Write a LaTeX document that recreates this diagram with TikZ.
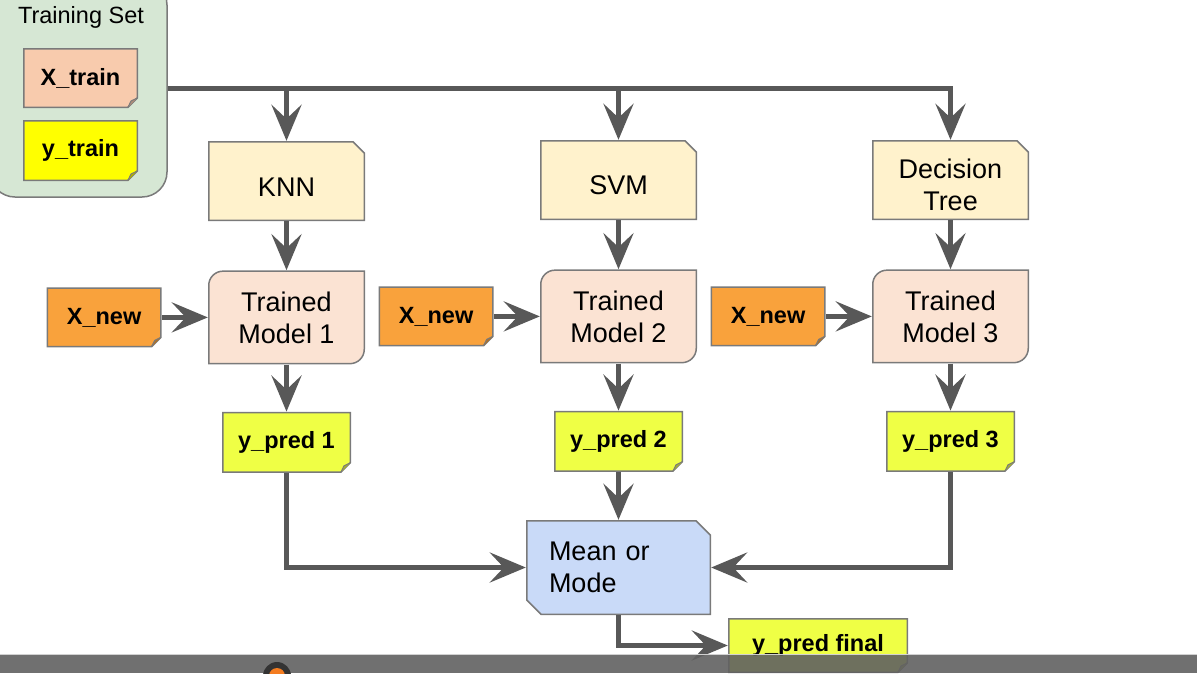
\documentclass[tikz,border=0pt]{standalone}
\usepackage{fontspec}
\setmainfont{Liberation Sans}
\usepackage{xcolor}
\usepackage{tikz}
\usetikzlibrary{arrows.meta,positioning}

\definecolor{wirecol}{HTML}{585858}
\definecolor{boxline}{HTML}{7A7A7A}
\definecolor{setfill}{HTML}{D6E7D4}
\definecolor{xtrainfill}{HTML}{F8CBAD}
\definecolor{ytrainfill}{HTML}{FFFF00}
\definecolor{algofill}{HTML}{FFF2CC}
\definecolor{modelfill}{HTML}{FBE3D3}
\definecolor{xnewfill}{HTML}{F9A23C}
\definecolor{predfill}{HTML}{EFFF45}
\definecolor{mergefill}{HTML}{C9DAF8}
\definecolor{dotfill}{HTML}{F47C20}

\begin{document}
\begin{tikzpicture}[
    x=1pt, y=-1pt,
    >={Stealth[length=36pt, width=30pt, inset=14pt]},
    wire/.style={draw=wirecol, line width=5pt},
    lbl/.style={font=\fontsize{27}{32}\selectfont, inner sep=0pt, align=center},
    box/.style={lbl, minimum width=157pt},
    note/.style={minimum width=115pt, minimum height=60pt, inner sep=0pt,
        font=\bfseries\fontsize{23.5}{28}\selectfont,
        path picture={
            \coordinate (nw) at (path picture bounding box.north west);
            \coordinate (ne) at (path picture bounding box.north east);
            \coordinate (se) at (path picture bounding box.south east);
            \coordinate (sw) at (path picture bounding box.south west);
            \filldraw[fill=#1, draw=boxline, line width=1.5pt]
                ([shift={(.75pt,-.75pt)}]nw) -- ([shift={(-.75pt,-.75pt)}]ne)
                -- ([shift={(-.75pt,10pt)}]se) -- ([shift={(-10pt,.75pt)}]se)
                -- ([shift={(.75pt,.75pt)}]sw) -- cycle;
            \filldraw[fill=#1!70!black, draw=boxline, line width=1pt]
                ([shift={(-.75pt,10pt)}]se) -- ([shift={(-7pt,7pt)}]se)
                -- ([shift={(-10pt,.75pt)}]se);
        }},
    algo/.style={box, minimum height=80pt, text height=30pt,
        path picture={
            \coordinate (nw) at (path picture bounding box.north west);
            \coordinate (ne) at (path picture bounding box.north east);
            \coordinate (se) at (path picture bounding box.south east);
            \coordinate (sw) at (path picture bounding box.south west);
            \filldraw[fill=algofill, draw=boxline, line width=1.5pt]
                ([shift={(.75pt,-.75pt)}]nw) -- ([shift={(-12pt,-.75pt)}]ne)
                -- ([shift={(-.75pt,-12pt)}]ne) -- ([shift={(-.75pt,.75pt)}]se)
                -- ([shift={(.75pt,.75pt)}]sw) -- cycle;
        }},
    model/.style={box, minimum height=94pt,
        path picture={
            \coordinate (nw) at (path picture bounding box.north west);
            \coordinate (ne) at (path picture bounding box.north east);
            \coordinate (se) at (path picture bounding box.south east);
            \coordinate (sw) at (path picture bounding box.south west);
            \filldraw[fill=modelfill, draw=boxline, line width=1.5pt]
                ([shift={(.75pt,.75pt)}]sw) -- ([shift={(.75pt,-15pt)}]nw)
                arc[start angle=180, end angle=90, radius=14.25pt]
                -- ([shift={(-.75pt,-.75pt)}]ne) -- ([shift={(-.75pt,15pt)}]se)
                arc[start angle=0, end angle=-90, radius=14.25pt] -- cycle;
        }},
    merge/.style={lbl, minimum width=185pt, minimum height=95pt,
        text width=139pt, align=left,
        path picture={
            \coordinate (nw) at (path picture bounding box.north west);
            \coordinate (ne) at (path picture bounding box.north east);
            \coordinate (se) at (path picture bounding box.south east);
            \coordinate (sw) at (path picture bounding box.south west);
            \filldraw[fill=mergefill, draw=boxline, line width=1.5pt]
                ([shift={(.75pt,-.75pt)}]nw) -- ([shift={(-15pt,-.75pt)}]ne)
                -- ([shift={(-.75pt,-15pt)}]ne) -- ([shift={(-.75pt,.75pt)}]se)
                -- ([shift={(15pt,.75pt)}]sw) -- ([shift={(.75pt,15pt)}]sw) -- cycle;
        }},
    group/.style={draw=boxline, fill=setfill, line width=1.5pt, rounded corners=25pt,
        minimum width=177pt, minimum height=217pt, inner sep=0pt}
]
    \useasboundingbox (0,0) rectangle (1197,673);

    % training data
    \node[group] (trainset) at (78.5,88.5) {};
    \node[lbl, font=\fontsize{23.5}{28}\selectfont] (setname) at (81,17) {Training Set};
    \node[note=xtrainfill] (xtrain) at (80.5,78) {X\_train};
    \node[note=ytrainfill, minimum height=61pt] (ytrain) at (80.5,150.5) {y\_train};

    % learners
    \node[algo] (knn) at (286.5,181) {KNN};
    \node[algo] (svm) at (618.5,180) {SVM};
    \node[algo, text height=62pt] (tree) at (950.5,180) {Decision\\Tree};

    \node[model, below=49pt of knn] (model1) {Trained\\Model 1};
    \node[model, below=49pt of svm] (model2) {Trained\\Model 2};
    \node[model, below=49pt of tree] (model3) {Trained\\Model 3};

    \node[note=xnewfill, left=46pt of model1] (xnew1) {X\_new};
    \node[note=xnewfill, left=46pt of model2] (xnew2) {X\_new};
    \node[note=xnewfill, left=46pt of model3] (xnew3) {X\_new};

    \node[note=predfill, minimum width=129pt, minimum height=61pt, below=47pt of model1] (pred1) {y\_pred 1};
    \node[note=predfill, minimum width=129pt, minimum height=61pt, below=47pt of model2] (pred2) {y\_pred 2};
    \node[note=predfill, minimum width=129pt, minimum height=61pt, below=47pt of model3] (pred3) {y\_pred 3};

    \node[merge] (merge) at (618.5,567.5) {Mean or\\Mode};
    \node[note=predfill, minimum width=180pt, minimum height=55pt] (final) at (818,645.5) {y\_pred final};

    % connectors
    \draw[wire, ->] (trainset.east) -| (tree.north);
    \draw[wire, ->] (trainset.east -| knn.north) -- (knn.north);
    \draw[wire, ->] (trainset.east -| svm.north) -- (svm.north);

    \draw[wire, ->] (knn) -- (model1);
    \draw[wire, ->] (svm) -- (model2);
    \draw[wire, ->] (tree) -- (model3);

    \draw[wire, ->] (xnew1) -- (model1);
    \draw[wire, ->] (xnew2) -- (model2);
    \draw[wire, ->] (xnew3) -- (model3);

    \draw[wire, ->] (model1) -- (pred1);
    \draw[wire, ->] (model2) -- (pred2);
    \draw[wire, ->] (model3) -- (pred3);

    \draw[wire, ->] (pred1.south) |- (merge.west);
    \draw[wire, ->] (pred2) -- (merge);
    \draw[wire, ->] (pred3.south) |- (merge.east);
    \draw[wire, ->] (merge.south) |- (final.west);

    % player bar
    \fill[black!62, opacity=.9] (0,655) rectangle (1197,673);
    \draw[black!18, line width=1pt] (0,654.5) -- (1197,654.5);
    \fill[black!80] (277,676) circle[radius=14pt];
    \fill[dotfill] (277,676) circle[radius=8pt];
\end{tikzpicture}
\end{document}
